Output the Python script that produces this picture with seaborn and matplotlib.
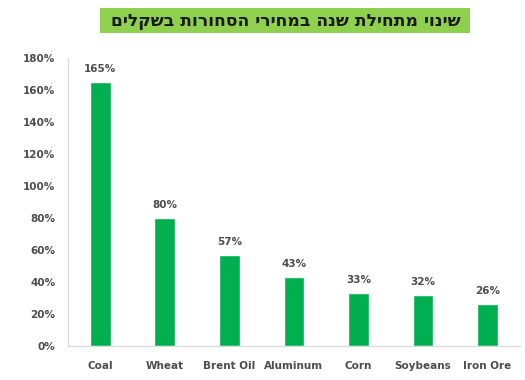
import matplotlib
matplotlib.use("Agg")
import matplotlib.pyplot as plt
import seaborn as sns
import pandas as pd
from matplotlib.patches import Rectangle

commodities = ["Coal", "Wheat", "Brent Oil", "Aluminum", "Corn", "Soybeans", "Iron Ore"]
changes = [165, 80, 57, 43, 33, 32, 26]
y_ticks = [0, 20, 40, 60, 80, 100, 120, 140, 160, 180]
title = "שינוי מתחילת שנה במחירי הסחורות בשקלים"

sns.set_theme(style="white")
plt.rcParams["font.family"] = ["DejaVu Sans"]

df = pd.DataFrame({"commodity": commodities, "change": changes})

fig = plt.figure(figsize=(5.25, 3.8), dpi=100)
ax = fig.add_axes([0.1295, 0.0895, 0.8605, 0.757])

sns.barplot(data=df, x="commodity", y="change", color="#00b050",
            width=0.32, saturation=1, ax=ax)

ax.set_ylim(0, 180)
ax.set_xlim(-0.5, len(commodities) - 0.5)
ax.set_yticks(y_ticks)
ax.set_yticklabels([f"{v}%" for v in y_ticks])
ax.set_xlabel("")
ax.set_ylabel("")
ax.tick_params(axis="both", length=0, labelsize=7.5, labelcolor="#4d4d4d")
ax.tick_params(axis="x", pad=11)
ax.tick_params(axis="y", pad=9)
for lbl in ax.get_xticklabels() + ax.get_yticklabels():
    lbl.set_fontweight("bold")

for side in ["top", "right"]:
    ax.spines[side].set_visible(False)
for side in ["left", "bottom"]:
    ax.spines[side].set_color("#d9d9d9")
    ax.spines[side].set_linewidth(0.8)

for i, v in enumerate(changes):
    ax.text(i, v + 5, f"{v}%", ha="center", va="bottom", fontsize=7.5,
            fontweight="bold", color="#4d4d4d")

# title banner; the Hebrew string is reversed so it reads right-to-left
banner = Rectangle((100 / 525, 1 - 33 / 380), 370 / 525, 25 / 380,
                   transform=fig.transFigure, facecolor="#8fd14f",
                   edgecolor="none")
fig.patches.append(banner)
fig.text(286 / 525, 1 - 20.5 / 380, title[::-1], ha="center", va="center",
         fontsize=12.3, fontweight="bold", color="#1a1a1a")

fig.savefig("out.png", dpi=100)
